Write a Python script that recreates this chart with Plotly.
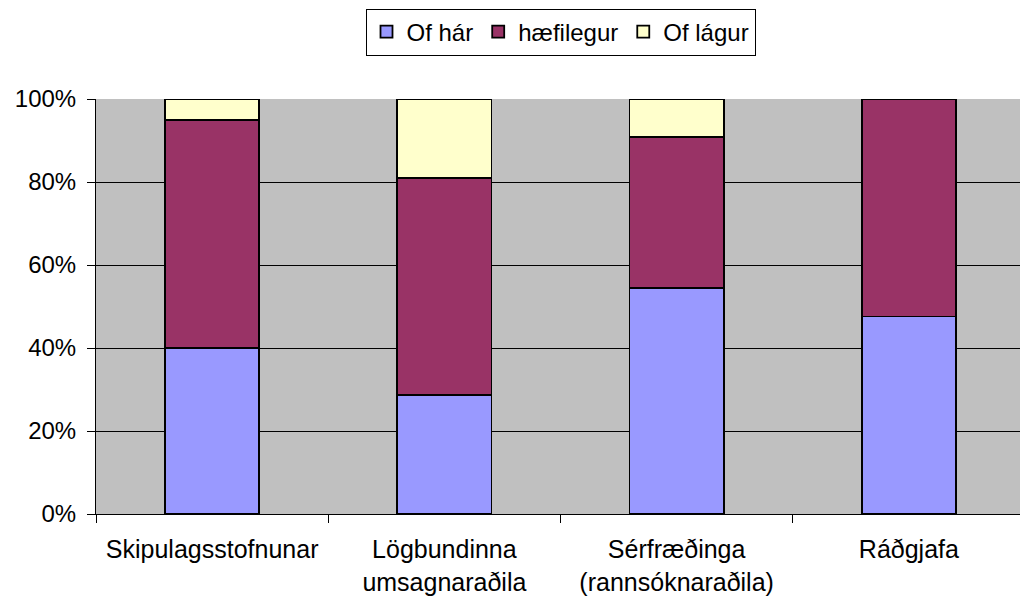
import plotly.graph_objects as go

categories = ["Skipulagsstofnunar", "Lögbundinna<br>umsagnaraðila", "Sérfræðinga<br>(rannsóknaraðila)", "Ráðgjafa"]
of_har = [40.0, 28.6, 54.5, 47.6]
haefilegur = [55.0, 52.4, 36.4, 52.4]
of_lagur = [5.0, 19.0, 9.1, 0.0]
y_ticks = [0, 20, 40, 60, 80, 100]
y_labels = ["0%", "20%", "40%", "60%", "80%", "100%"]

series = [("Of hár", of_har, "#9999FF"), ("hæfilegur", haefilegur, "#993366"), ("Of lágur", of_lagur, "#FFFFCC")]

FONT_X = dict(family="Liberation Sans", size=25, color="black")
FONT_Y = dict(family="Liberation Sans", size=24, color="black")

fig = go.Figure()
for name, vals, color in series:
    fig.add_trace(go.Bar(x=categories, y=vals, name=name,
                         marker=dict(color=color, line=dict(color="black", width=1.8))))

fig.update_layout(
    barmode="stack",
    bargap=0.595,
    width=1020, height=591,
    margin=dict(l=88, r=3, t=91, b=85, autoexpand=False),
    paper_bgcolor="white",
    plot_bgcolor="#C0C0C0",
    font=FONT_X,
    legend=dict(orientation="h", x=0.5, xanchor="center", y=1.218, yanchor="top",
                bordercolor="black", borderwidth=1, bgcolor="white",
                font=dict(family="Liberation Sans", size=24, color="black"),
                traceorder="normal", itemwidth=30),
    showlegend=True,
)
fig.update_yaxes(range=[0, 100], tickmode="array", tickvals=y_ticks, ticktext=y_labels,
                 tickfont=FONT_Y, ticklabelstandoff=6,
                 showgrid=True, gridcolor="black", gridwidth=1,
                 showline=True, linecolor="black", linewidth=1,
                 ticks="outside", ticklen=8, tickcolor="black", zeroline=False)
fig.update_xaxes(showline=True, linecolor="black", linewidth=1, tickfont=FONT_X,
                 ticklabelstandoff=13,
                 ticks="outside", tickson="boundaries", ticklen=8, tickcolor="black")

fig.write_html("out.html")
